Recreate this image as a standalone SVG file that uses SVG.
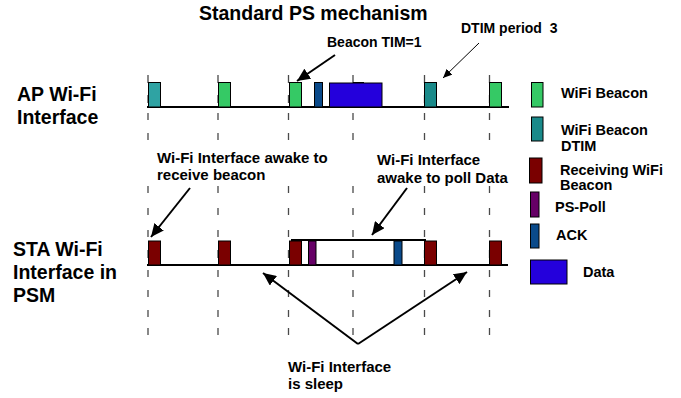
<svg xmlns="http://www.w3.org/2000/svg" xmlns:xlink="http://www.w3.org/1999/xlink" width="681" height="398" viewBox="0 0 681 398">
<style>
text{font-family:"Liberation Sans",Arial,sans-serif;font-weight:bold;fill:#000}
.t20{font-size:19.5px}
.t15{font-size:15px}
.t14{font-size:14px;white-space:pre}
.lg{font-size:14.5px}
.dash{stroke:#4a4a4a;stroke-width:1.3;fill:none}
.base{stroke:#000;stroke-width:2;fill:none}
.blk{stroke:#000;stroke-width:1}
.green{fill:#35C965}
.teal1{fill:#2FA3A3}
.teal{fill:#1A8A8A}
.red{fill:#7A0000}
.purple{fill:#660066}
.ack{fill:#0A4A8A}
.data{fill:#2400DC}
.arr{stroke:#000;stroke-width:2;fill:none;marker-end:url(#ah)}
.arrt{stroke:#000;stroke-width:1;fill:none;marker-end:url(#ahs)}
</style>
<defs>
<marker id="ah" markerUnits="userSpaceOnUse" markerWidth="14" markerHeight="12" refX="13" refY="6" orient="auto"><path d="M0,0 L13,6 L0,12 Z" fill="#000"/></marker>
<marker id="ahs" markerUnits="userSpaceOnUse" markerWidth="10" markerHeight="8" refX="9" refY="4" orient="auto"><path d="M0,0 L9,4 L0,8 Z" fill="#000"/></marker>
<path id="dl" class="dash" d="M0,75V83M0,95V103M0,113V120M0,133V140M0,186V193M0,208V215M0,230V237M0,250V258M0,270V277M0,290V297M0,310V317M0,328V335"/>
</defs>
<g id="title"><text class="t20" x="199" y="20">Standard PS mechanism</text></g>
<g id="grid">
<use xlink:href="#dl" x="148"/>
<use xlink:href="#dl" x="218"/>
<use xlink:href="#dl" x="288.5"/>
<use xlink:href="#dl" x="353"/>
<use xlink:href="#dl" x="424.5"/>
<use xlink:href="#dl" x="489.5"/>
</g>
<g id="ap-row">
<text class="t20" x="17" y="101">AP Wi-Fi</text>
<text class="t20" x="17" y="124">Interface</text>
<line class="base" x1="147" y1="107" x2="509" y2="107"/>
<rect class="teal1 blk" x="148.5" y="82.5" width="12" height="24.5"/>
<rect class="green blk" x="218.5" y="82.5" width="12" height="24.5"/>
<rect class="green blk" x="289.5" y="82.5" width="12" height="24.5"/>
<rect class="ack blk" x="314.5" y="82.5" width="8" height="24.5"/>
<rect class="data blk" x="329.5" y="83" width="52.5" height="24"/>
<line class="blk" x1="353" y1="82.5" x2="364" y2="82.5"/>
<rect class="teal blk" x="424.5" y="82.5" width="12" height="24.5"/>
<rect class="green blk" x="489.5" y="82.5" width="12" height="24.5"/>
</g>
<g id="sta-row">
<text class="t20" x="13" y="256">STA Wi-Fi</text>
<text class="t20" x="13" y="279">Interface in</text>
<text class="t20" x="13" y="302">PSM</text>
<line class="base" x1="147" y1="265" x2="508" y2="265"/>
<line class="base" x1="291" y1="240" x2="426" y2="240"/>
<rect class="red blk" x="148.5" y="241" width="12" height="24"/>
<rect class="red blk" x="218.5" y="241" width="12" height="24"/>
<rect class="red blk" x="289.5" y="241" width="12" height="24"/>
<rect class="purple blk" x="308.5" y="241" width="7.5" height="24"/>
<rect class="ack blk" x="394" y="241" width="8" height="24"/>
<rect class="red blk" x="424.5" y="241" width="12" height="24"/>
<rect class="red blk" x="489.5" y="241" width="12" height="24"/>
</g>
<g id="labels">
<text class="t14" x="327" y="47">Beacon TIM=1</text>
<text class="t14" x="461" y="33">DTIM period  3</text>
<text class="t15" x="157" y="163">Wi-Fi Interface awake to</text>
<text class="t15" x="157" y="180">receive beacon</text>
<text class="t15" x="377" y="165">Wi-Fi Interface</text>
<text class="t15" x="377" y="183">awake to poll Data</text>
<text class="t15" x="288" y="372">Wi-Fi Interface</text>
<text class="t15" x="288" y="389">is sleep</text>
</g>
<g id="connectors">
<line class="arr" x1="335" y1="55" x2="297" y2="81"/>
<line class="arrt" x1="479" y1="43" x2="443" y2="78"/>
<line class="arr" x1="190" y1="188" x2="151" y2="237"/>
<line class="arr" x1="407" y1="188" x2="372" y2="235"/>
<line class="arr" x1="358" y1="344" x2="263" y2="273"/>
<line class="arr" x1="358" y1="344" x2="467" y2="272"/>
</g>
<g id="legend">
<rect class="green blk" x="531.5" y="82.5" width="11.5" height="24.5"/>
<text class="lg" x="561" y="98">WiFi Beacon</text>
<rect class="teal blk" x="531.5" y="117" width="11.5" height="24"/>
<text class="lg" x="561" y="135">WiFi Beacon</text>
<text class="lg" x="561" y="151">DTIM</text>
<rect class="red blk" x="529.5" y="158" width="12.5" height="25"/>
<text class="lg" x="560" y="175">Receiving WiFi</text>
<text class="lg" x="560" y="190">Beacon</text>
<rect class="purple blk" x="530.5" y="192" width="8.5" height="25"/>
<text class="lg" x="555" y="212">PS-Poll</text>
<rect class="ack blk" x="530.5" y="224" width="8.5" height="24"/>
<text class="lg" x="556" y="240">ACK</text>
<rect class="data blk" x="530.5" y="260" width="36.5" height="24"/>
<text class="lg" x="583" y="277">Data</text>
</g>
</svg>
